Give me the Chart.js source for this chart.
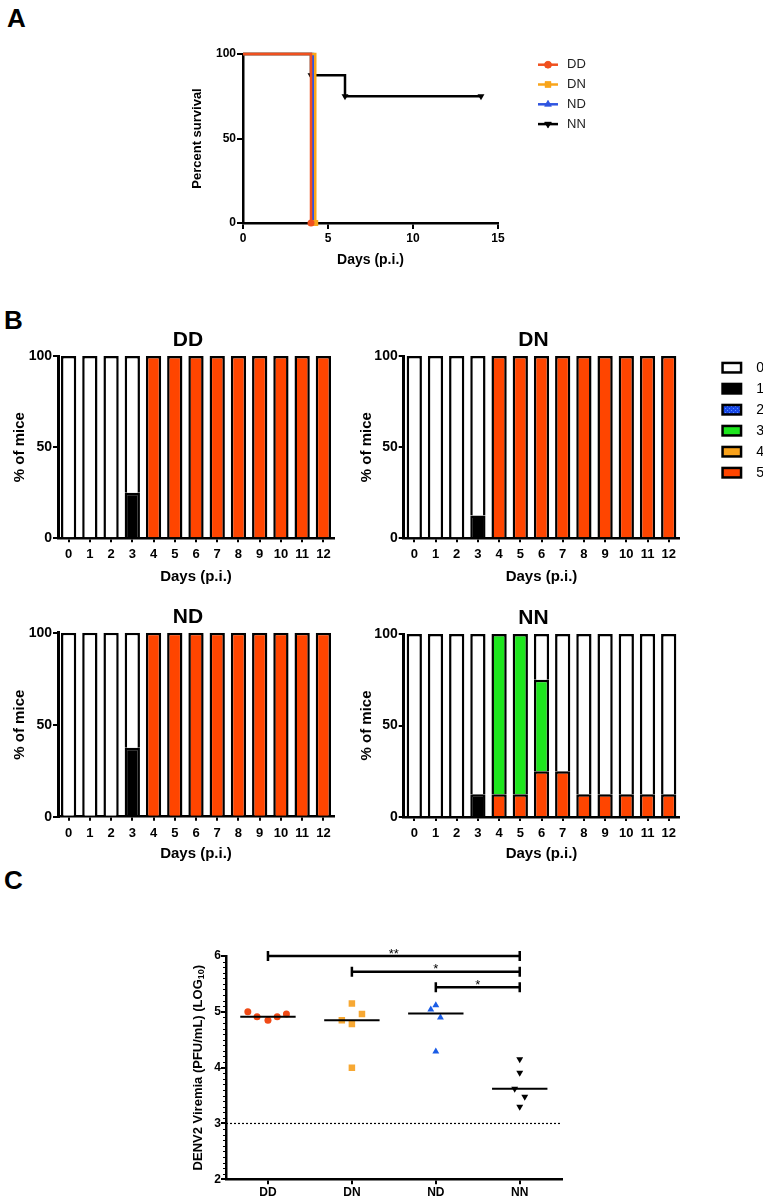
<!DOCTYPE html>
<html><head><meta charset="utf-8">
<script src="https://cdn.jsdelivr.net/npm/chart.js@4.4.1/dist/chart.umd.min.js"></script>
<style>
body{margin:0;background:#fff;width:763px;height:1200px;position:relative;overflow:hidden;font-family:"Liberation Sans",Arial,Helvetica,sans-serif;}
canvas{position:absolute;}
.lbl{position:absolute;font-weight:bold;font-size:26px;line-height:1;color:#000;}
</style></head><body>
<div class="lbl" style="left:7px;top:5px">A</div>
<div class="lbl" style="left:4px;top:307px">B</div>
<div class="lbl" style="left:4px;top:867px">C</div>
<canvas id="cA" width="460" height="235" style="left:150px;top:40px"></canvas>
<canvas id="cDD" width="374" height="270" style="left:0px;top:320px"></canvas>
<canvas id="cDN" width="418" height="270" style="left:345px;top:320px"></canvas>
<canvas id="cND" width="374" height="270" style="left:0px;top:597px"></canvas>
<canvas id="cNN" width="418" height="270" style="left:345px;top:597px"></canvas>
<canvas id="cC" width="430" height="305" style="left:150px;top:895px"></canvas>
<script>
// ---------- DATA ----------
// Panel A: Kaplan-Meier survival
const survGroups = ['DD', 'DN', 'ND', 'NN'];
const ddDays = [0, 4];        const ddSurv = [100, 0];
const dnDays = [0, 4.25];     const dnSurv = [100, 0];
const ndDays = [0, 4.12];     const ndSurv = [100, 0];
const nnDays = [0, 4, 6, 14]; const nnSurv = [100, 87.5, 75, 75];
const survXTicks = [0, 5, 10, 15];
const survYTicks = [0, 50, 100];

// Panel B: clinical score distribution (% of mice)
const dayLabels = ['0','1','2','3','4','5','6','7','8','9','10','11','12'];
const scoreLabels = ['0', '1', '2', '3', '4', '5'];
const zeros = [0,0,0,0,0,0,0,0,0,0,0,0,0];
const ddScore0 = [100,100,100,75,0,0,0,0,0,0,0,0,0];
const ddScore1 = [0,0,0,25,0,0,0,0,0,0,0,0,0];
const ddScore5 = [0,0,0,0,100,100,100,100,100,100,100,100,100];
const dnScore0 = [100,100,100,87.5,0,0,0,0,0,0,0,0,0];
const dnScore1 = [0,0,0,12.5,0,0,0,0,0,0,0,0,0];
const dnScore5 = [0,0,0,0,100,100,100,100,100,100,100,100,100];
const ndScore0 = [100,100,100,62.5,0,0,0,0,0,0,0,0,0];
const ndScore1 = [0,0,0,37.5,0,0,0,0,0,0,0,0,0];
const ndScore5 = [0,0,0,0,100,100,100,100,100,100,100,100,100];
const nnScore0 = [100,100,100,87.5,0,0,25,75,87.5,87.5,87.5,87.5,87.5];
const nnScore1 = [0,0,0,12.5,0,0,0,0,0,0,0,0,0];
const nnScore3 = [0,0,0,0,87.5,87.5,50,0,0,0,0,0,0];
const nnScore5 = [0,0,0,0,12.5,12.5,25,25,12.5,12.5,12.5,12.5,12.5];

// Panel C: viremia (log10 PFU/mL)
const viremiaGroups = ['DD', 'DN', 'ND', 'NN'];
const ddVir = [5.00, 4.91, 4.85, 4.91, 4.96]; const ddJit = [-0.24, -0.13, 0, 0.11, 0.22];
const dnVir = [4.85, 5.15, 4.78, 4.96, 4.00]; const dnJit = [-0.12, 0, 0, 0.12, 0];
const ndVir = [5.04, 5.12, 4.90, 4.29];       const ndJit = [-0.06, 0, 0.055, 0];
const nnVir = [4.15, 3.91, 3.62, 3.48, 3.30]; const nnJit = [0, 0, -0.06, 0.06, 0];
const detectionLimit = 3;
const viremiaYTicks = [2, 3, 4, 5, 6];
const sigFrom = [1, 2, 3];
const sigTo = [4, 4, 4];
const sigY = [6.0, 5.72, 5.44];
const sigText = ['**', '*', '*'];

// ---------- STYLE ----------
const FONT = '"Liberation Sans", Arial, Helvetica, sans-serif';
Chart.defaults.font.family = FONT;
Chart.defaults.color = '#000';
const BLACK = '#000';
const colA = ['#F0501E', '#F8A51B', '#2F55E0', '#000000'];
const shapeA = ['circle', 'rect', 'triangle', 'triangle'];
const rotA = [0, 0, 0, 180];
const radA = [3.5, 4.2, 4, 4];

function drawMarker(ctx, style, r, rot, x, y, color) {
  ctx.save();
  ctx.fillStyle = color; ctx.strokeStyle = color; ctx.lineWidth = 0.5;
  if (Chart.helpers && Chart.helpers.drawPoint) {
    Chart.helpers.drawPoint(ctx, {pointStyle: style, radius: r, rotation: rot, borderWidth: 0.5}, x, y);
    ctx.fill();
  } else {
    ctx.beginPath(); ctx.arc(x, y, r, 0, Math.PI * 2); ctx.fill();
  }
  ctx.restore();
}

function axisCommon(extra) {
  return Object.assign({
    grid: {display: true, drawOnChartArea: false, drawTicks: true, tickLength: 6, color: BLACK, lineWidth: 2},
    border: {display: true, color: BLACK, width: 2.5}
  }, extra);
}

// ---------- PANEL A ----------
function pts(xs, ys) { return xs.map((x, i) => ({x: x, y: ys[i]})); }
const survX = [ddDays, dnDays, ndDays, nnDays];
const survY = [ddSurv, dnSurv, ndSurv, nnSurv];
const aDatasets = survGroups.map((g, i) => ({
  label: g, data: pts(survX[i], survY[i]), stepped: true,
  borderColor: colA[i], backgroundColor: colA[i], borderWidth: 2.5, fill: false,
  pointStyle: shapeA[i], pointRotation: rotA[i],
  pointRadius: c => c.dataIndex === 0 ? 0 : radA[i], pointBorderWidth: 0,
  pointBackgroundColor: colA[i], clip: false
}));
const legendA = {
  id: 'legendA',
  afterDraw(chart) {
    const {ctx, chartArea} = chart;
    chart.data.datasets.forEach((ds, i) => {
      const y = chartArea.top + 10.7 + i * 19.8;
      const x0 = chartArea.right + 40;
      ctx.save();
      ctx.strokeStyle = colA[i]; ctx.lineWidth = 2.5;
      ctx.beginPath(); ctx.moveTo(x0, y); ctx.lineTo(x0 + 20, y); ctx.stroke();
      ctx.restore();
      drawMarker(ctx, shapeA[i], radA[i], rotA[i], x0 + 10, y, colA[i]);
      ctx.save();
      ctx.fillStyle = '#222'; ctx.font = '13px ' + FONT; ctx.textBaseline = 'middle'; ctx.textAlign = 'left';
      ctx.fillText(ds.label, x0 + 29, y);
      ctx.restore();
    });
  }
};
new Chart(document.getElementById('cA'), {
  type: 'line',
  data: {datasets: aDatasets},
  options: {
    responsive: false, devicePixelRatio: 1, animation: false,
    layout: {padding: {left: 0, right: 112, top: 14, bottom: 0}},
    plugins: {legend: {display: false}, tooltip: {enabled: false}},
    scales: {
      x: axisCommon({type: 'linear', min: 0, max: 15,
        afterBuildTicks: s => { s.ticks = survXTicks.map(v => ({value: v})); },
        ticks: {font: {weight: 'bold', size: 12}, padding: 2, color: BLACK},
        title: {display: true, text: 'Days (p.i.)', font: {weight: 'bold', size: 14}, padding: {top: 0, bottom: 6.6}, color: BLACK},
        afterFit: s => { s.height = 52; }}),
      y: axisCommon({type: 'linear', min: 0, max: 100,
        afterBuildTicks: s => { s.ticks = survYTicks.map(v => ({value: v})); },
        ticks: {font: {weight: 'bold', size: 12}, padding: 1, color: BLACK},
        title: {display: true, text: 'Percent survival', font: {weight: 'bold', size: 13}, padding: {top: 39.7, bottom: 0}, color: BLACK},
        afterFit: s => { s.width = 93; }})
    }
  },
  plugins: [legendA]
});

// ---------- PANEL B ----------
function makeBluePattern() {
  const c = document.createElement('canvas'); c.width = 4; c.height = 4;
  const x = c.getContext('2d');
  x.fillStyle = '#1848E8'; x.fillRect(0, 0, 4, 4);
  x.fillStyle = '#5C90FF'; x.fillRect(0, 0, 1, 1); x.fillRect(2, 2, 1, 1);
  return x.createPattern(c, 'repeat');
}
const scoreColors = ['#FFFFFF', '#000000', makeBluePattern(), '#1EE61E', '#F9A21B', '#FF4500'];

function titlePlugin(name) {
  return {
    id: 'panelTitle',
    afterDraw(chart) {
      const {ctx, chartArea} = chart;
      ctx.save();
      ctx.font = 'bold 21px ' + FONT; ctx.fillStyle = BLACK;
      ctx.textAlign = 'center'; ctx.textBaseline = 'middle';
      ctx.fillText(name, (chartArea.left + chartArea.right) / 2 - 8, chartArea.top - 15.5);
      ctx.restore();
    }
  };
}
const legendB = {
  id: 'legendB',
  afterDraw(chart) {
    const {ctx, chartArea} = chart;
    const ds = chart.data.datasets.slice().reverse();
    ds.forEach((d, i) => {
      const yc = chartArea.top + 11.7 + i * 21;
      const x = chartArea.right + 42;
      ctx.save();
      ctx.fillStyle = BLACK; ctx.fillRect(x, yc - 6, 21, 12);
      ctx.fillStyle = d.backgroundColor; ctx.fillRect(x + 2.5, yc - 3.5, 16, 7);
      ctx.fillStyle = BLACK; ctx.font = '14px ' + FONT; ctx.textBaseline = 'middle'; ctx.textAlign = 'left';
      ctx.fillText(d.label, x + 35, yc);
      ctx.restore();
    });
  }
};

function barPanel(id, name, scores, g, extra) {
  const order = [5, 4, 3, 2, 1, 0];
  const datasets = order.map(k => ({
    label: scoreLabels[k], data: scores[k], backgroundColor: scoreColors[k],
    borderColor: BLACK, borderWidth: 2.5, borderSkipped: 'start',
    barPercentage: 0.72, categoryPercentage: 1
  }));
  new Chart(document.getElementById(id), {
    type: 'bar',
    data: {labels: dayLabels, datasets: datasets},
    options: {
      responsive: false, devicePixelRatio: 1, animation: false,
      layout: {padding: {left: 0, right: g.padRight, top: g.padTop, bottom: 0}},
      plugins: {legend: {display: false}, tooltip: {enabled: false}},
      scales: {
        x: {stacked: true,
          grid: {display: true, offset: false, drawOnChartArea: false, tickLength: 4, color: BLACK, lineWidth: 2},
          border: {display: true, color: BLACK, width: 2.5},
          ticks: {font: {weight: 'bold', size: 13}, padding: 4.5, color: BLACK, maxRotation: 0, autoSkip: false},
          title: {display: true, text: 'Days (p.i.)', font: {weight: 'bold', size: 15}, padding: {top: 0, bottom: g.xTitlePad}, color: BLACK},
          afterFit: s => { s.height = g.xHeight; }},
        y: {stacked: true, min: 0, max: 100,
          grid: {display: true, drawOnChartArea: false, tickLength: 5, color: BLACK, lineWidth: 2},
          border: {display: true, color: BLACK, width: 3},
          ticks: {stepSize: 50, font: {weight: 'bold', size: 14}, padding: 1, color: BLACK},
          title: {display: true, text: '% of mice', font: {weight: 'bold', size: 15}, padding: {top: g.yTitlePad, bottom: 0}, color: BLACK},
          afterFit: s => { s.width = g.yWidth; }}
      }
    },
    plugins: [titlePlugin(name)].concat(extra || [])
  });
}
barPanel('cDD', 'DD', [ddScore0, ddScore1, zeros, zeros, zeros, ddScore5],
  {padRight: 40, padTop: 36, xHeight: 51.7, yWidth: 58, yTitlePad: 10.5, xTitlePad: 4});
barPanel('cDN', 'DN', [dnScore0, dnScore1, zeros, zeros, zeros, dnScore5],
  {padRight: 83.7, padTop: 36, xHeight: 51.7, yWidth: 58.7, yTitlePad: 13, xTitlePad: 4}, [legendB]);
barPanel('cND', 'ND', [ndScore0, ndScore1, zeros, zeros, zeros, ndScore5],
  {padRight: 40, padTop: 35.7, xHeight: 50.3, yWidth: 58, yTitlePad: 10.5, xTitlePad: 4.5});
barPanel('cNN', 'NN', [nnScore0, nnScore1, zeros, nnScore3, zeros, nnScore5],
  {padRight: 83.7, padTop: 37, xHeight: 50, yWidth: 58.7, yTitlePad: 13, xTitlePad: 4.5});

// ---------- PANEL C ----------
const colC = ['#F04A16', '#F7A833', '#1A5CE6', '#000000'];
const shapeC = ['circle', 'rect', 'triangle', 'triangle'];
const rotC = [0, 0, 0, 180];
const radC = [3.5, 4.6, 4, 4];
const virVals = [ddVir, dnVir, ndVir, nnVir];
const virJit = [ddJit, dnJit, ndJit, nnJit];
function median(a) { const s = a.slice().sort((p, q) => p - q); const m = Math.floor(s.length / 2); return s.length % 2 ? s[m] : (s[m - 1] + s[m]) / 2; }
const cDatasets = [];
viremiaGroups.forEach((g, i) => {
  const med = median(virVals[i]);
  cDatasets.push({type: 'line', label: g + ' median', data: [{x: i + 1 - 0.33, y: med}, {x: i + 1 + 0.33, y: med}],
    borderColor: BLACK, borderWidth: 2, pointRadius: 0, fill: false});
});
viremiaGroups.forEach((g, i) => {
  cDatasets.push({type: 'scatter', label: g, data: virVals[i].map((v, k) => ({x: i + 1 + virJit[i][k], y: v})),
    pointStyle: shapeC[i], pointRotation: rotC[i], pointRadius: radC[i], pointBorderWidth: 0,
    pointBackgroundColor: colC[i], backgroundColor: colC[i], borderColor: colC[i]});
});
cDatasets.push({type: 'line', label: 'limit of detection', data: [{x: 0.5, y: detectionLimit}, {x: 4.5, y: detectionLimit}],
  borderColor: BLACK, borderWidth: 1.2, borderDash: [2, 2], pointRadius: 0, fill: false});

const sigPlugin = {
  id: 'sigBrackets',
  afterDatasetsDraw(chart) {
    const {ctx} = chart; const xs = chart.scales.x, ys = chart.scales.y;
    ctx.save();
    ctx.strokeStyle = BLACK; ctx.lineWidth = 2.5; ctx.fillStyle = BLACK;
    sigFrom.forEach((f, i) => {
      const x1 = xs.getPixelForValue(f), x2 = xs.getPixelForValue(sigTo[i]), y = ys.getPixelForValue(sigY[i]);
      ctx.beginPath();
      ctx.moveTo(x1, y); ctx.lineTo(x2, y);
      ctx.moveTo(x1, y - 5); ctx.lineTo(x1, y + 5);
      ctx.moveTo(x2, y - 5); ctx.lineTo(x2, y + 5);
      ctx.stroke();
      ctx.font = '13px ' + FONT; ctx.textAlign = 'center'; ctx.textBaseline = 'alphabetic';
      ctx.fillText(sigText[i], (x1 + x2) / 2, y + 1.5);
    });
    ctx.restore();
  }
};
const minorTicks = {
  id: 'minorTicks',
  afterDraw(chart) {
    const {ctx, chartArea} = chart; const ys = chart.scales.y;
    ctx.save(); ctx.strokeStyle = BLACK; ctx.lineWidth = 1;
    for (let k = 0; k <= 40; k++) {
      if (k % 10 === 0) continue;
      const y = Math.round(ys.getPixelForValue(ys.min + k * 0.1)) + 0.5;
      ctx.beginPath(); ctx.moveTo(chartArea.left - 3, y); ctx.lineTo(chartArea.left, y); ctx.stroke();
    }
    ctx.restore();
  }
};
const yLabelC = {
  id: 'yLabelC',
  afterDraw(chart) {
    const {ctx, chartArea} = chart;
    const main = 'DENV2 Viremia (PFU/mL) (LOG', sub = '10', tail = ')';
    const fMain = 'bold 13px ' + FONT, fSub = 'bold 9px ' + FONT;
    ctx.save();
    ctx.font = fMain; const w1 = ctx.measureText(main).width, w3 = ctx.measureText(tail).width;
    ctx.font = fSub; const w2 = ctx.measureText(sub).width;
    const total = w1 + w2 + w3;
    ctx.translate(chartArea.left - 28, (chartArea.top + chartArea.bottom) / 2);
    ctx.rotate(-Math.PI / 2);
    ctx.fillStyle = BLACK; ctx.textBaseline = 'middle'; ctx.textAlign = 'left';
    let x = -total / 2;
    ctx.font = fMain; ctx.fillText(main, x, 0); x += w1;
    ctx.font = fSub; ctx.fillText(sub, x, 4); x += w2;
    ctx.font = fMain; ctx.fillText(tail, x, 0);
    ctx.restore();
  }
};
new Chart(document.getElementById('cC'), {
  type: 'scatter',
  data: {datasets: cDatasets},
  options: {
    responsive: false, devicePixelRatio: 1, animation: false,
    layout: {padding: {left: 0, right: 18.3, top: 61, bottom: 0}},
    plugins: {legend: {display: false}, tooltip: {enabled: false}},
    scales: {
      x: axisCommon({type: 'linear', min: 0.5, max: 4.5,
        afterBuildTicks: s => { s.ticks = viremiaGroups.map((g, i) => ({value: i + 1})); },
        ticks: {font: {weight: 'bold', size: 12}, padding: 1.5, color: BLACK, callback: v => viremiaGroups[Math.round(v) - 1]},
        grid: {display: true, drawOnChartArea: false, tickLength: 5, color: BLACK, lineWidth: 2},
        border: {display: true, color: BLACK, width: 2.5},
        afterFit: s => { s.height = 20.7; }}),
      y: axisCommon({type: 'linear', min: 2, max: 6,
        afterBuildTicks: s => { s.ticks = viremiaYTicks.map(v => ({value: v})); },
        ticks: {font: {weight: 'bold', size: 12}, padding: 0, color: BLACK},
        grid: {display: true, drawOnChartArea: false, tickLength: 5, color: BLACK, lineWidth: 2},
        border: {display: true, color: BLACK, width: 2.5},
        afterFit: s => { s.width = 76; }})
    }
  },
  plugins: [sigPlugin, minorTicks, yLabelC]
});
</script>
</body></html>
